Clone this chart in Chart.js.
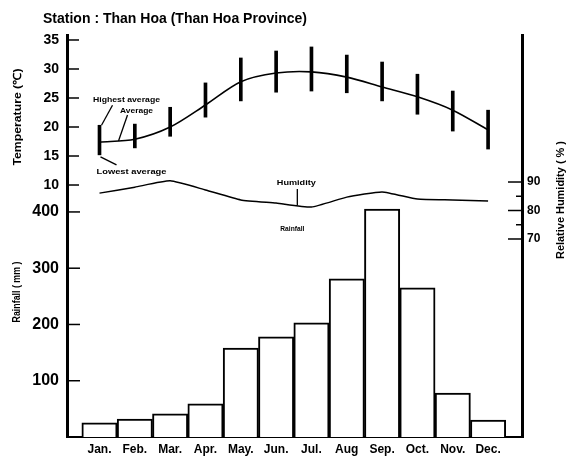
<!DOCTYPE html>
<html>
<head>
<meta charset="utf-8">
<script src="https://cdn.jsdelivr.net/npm/chart.js@4.4.1/dist/chart.umd.min.js"></script>
<style>
  html, body { margin: 0; padding: 0; background: #fff; }
  #chartContainer { width: 568px; height: 464px; }
</style>
</head>
<body>
<div id="chartContainer"><canvas id="chart"></canvas></div>
<script>
const months = ['Jan.', 'Feb.', 'Mar.', 'Apr.', 'May.', 'Jun.', 'Jul.', 'Aug', 'Sep.', 'Oct.', 'Nov.', 'Dec.'];
const tempAvg = [17.4, 17.9, 20.0, 23.8, 27.8, 29.3, 29.5, 28.6, 26.9, 25.2, 22.9, 19.5];
const tempHigh = [20.3, 20.5, 23.4, 27.6, 31.9, 33.1, 33.8, 32.4, 31.2, 29.1, 26.2, 22.9];
const tempLow = [15.2, 16.4, 18.4, 21.7, 24.5, 26.0, 26.2, 25.9, 24.5, 22.2, 19.3, 16.2];
const humidity = [86.1, 88.2, 90.4, 87.2, 83.7, 82.6, 81.2, 84.7, 86.5, 84.0, 83.7, 83.3];
const rainfall = [25, 32, 41, 59, 158, 178, 203, 281, 405, 265, 78, 30];
const tempTicks = [10, 15, 20, 25, 30, 35];
const rainTicks = [100, 200, 300, 400];
const humidityTicks = [70, 75, 80, 85, 90];
const humidityLabels = [70, 80, 90];

const FONT = '"Liberation Sans", Arial, sans-serif';

// draws text squeezed to a given width (the scan uses a narrow face)
function fitText(ctx, text, cx, cy, width, size, rotate) {
  ctx.save();
  ctx.translate(cx, cy);
  if (rotate) ctx.rotate(-Math.PI / 2);
  ctx.font = 'bold ' + size + 'px ' + FONT;
  const w = ctx.measureText(text).width;
  ctx.scale(width / w, 1);
  ctx.textAlign = 'center';
  ctx.textBaseline = 'middle';
  ctx.fillStyle = '#000';
  ctx.fillText(text, 0, 0);
  ctx.restore();
}

function seg(ctx, x1, y1, x2, y2) {
  ctx.beginPath();
  ctx.moveTo(x1, y1);
  ctx.lineTo(x2, y2);
  ctx.stroke();
}

// inward tick marks + titles + little labels
const decorations = {
  id: 'decorations',
  afterDraw(chart) {
    const ctx = chart.ctx;
    const s = chart.scales;
    const left = s.x.left;
    const right = s.x.right;
    ctx.save();
    ctx.strokeStyle = '#000';
    ctx.lineWidth = 1.5;
    tempTicks.forEach(v => {
      const y = s.yTemp.getPixelForValue(v);
      seg(ctx, left, y, left + 12, y);
    });
    rainTicks.forEach(v => {
      const y = s.yRain.getPixelForValue(v);
      seg(ctx, left, y, left + 13, y);
    });
    humidityTicks.forEach(v => {
      const y = s.yHum.getPixelForValue(v);
      const len = humidityLabels.includes(v) ? 14 : 6;
      seg(ctx, right - len, y, right, y);
    });

    // titles
    fitText(ctx, 'Station : Than Hoa (Than Hoa Province)', 175, 19, 264, 14);
    fitText(ctx, 'Temperature (\u2103)', 18, 117, 97, 11, true);
    fitText(ctx, 'Rainfall ( mm )', 17, 292, 61, 10, true);
    fitText(ctx, 'Relative Humidity ( % )', 561, 200, 118, 10, true);

    // legend bracket labels at January
    const jx = s.x.getPixelForValue(0);
    const hy = s.yTemp.getPixelForValue(tempHigh[0]);
    const ay = s.yTemp.getPixelForValue(tempAvg[0]);
    const ly = s.yTemp.getPixelForValue(tempLow[0]);
    ctx.lineWidth = 1.3;
    seg(ctx, jx + 13, hy - 20, jx + 2, hy);
    seg(ctx, jx + 28, ay - 27, jx + 19, ay - 1);
    seg(ctx, jx + 1, ly + 2, jx + 17, ly + 10);
    fitText(ctx, 'Highest average', jx + 27, hy - 25, 67, 8);
    fitText(ctx, 'Average', jx + 37, ay - 31, 33, 8);
    fitText(ctx, 'Lowest average', jx + 32, ly + 17, 70, 8);

    // humidity / rainfall captions
    const hx = s.x.getPixelForValue(5.6);
    const hv = humidity[5] + 0.6 * (humidity[6] - humidity[5]);
    seg(ctx, hx, 189, hx, s.yHum.getPixelForValue(hv));
    fitText(ctx, 'Humidity', hx - 1, 183, 39, 8);
    fitText(ctx, 'Rainfall', hx - 5, 229, 24, 8);
    ctx.restore();
  }
};

const ctx = document.querySelector('#chart');

const chart = new Chart(ctx, {
  type: 'bar',
  data: {
    datasets: [
      {
        type: 'line',
        label: 'Average',
        data: tempAvg.map((v, i) => ({ x: i, y: v })),
        yAxisID: 'yTemp',
        borderColor: '#000',
        borderWidth: 1.6,
        pointRadius: 0,
        tension: 0.3
      },
      {
        type: 'line',
        label: 'Humidity',
        data: humidity.map((v, i) => ({ x: i, y: v })),
        yAxisID: 'yHum',
        borderColor: '#000',
        borderWidth: 1.5,
        pointRadius: 0,
        tension: 0.15
      },
      {
        label: 'Temperature range',
        data: tempLow.map((v, i) => ({ x: i, y: [v, tempHigh[i]] })),
        yAxisID: 'yTemp',
        backgroundColor: '#000',
        borderWidth: 0,
        barThickness: 3,
        grouped: false
      },
      {
        label: 'Rainfall',
        data: rainfall.map((v, i) => ({ x: i, y: v })),
        yAxisID: 'yRain',
        backgroundColor: '#fff',
        borderColor: '#000',
        borderWidth: 2,
        barPercentage: 1,
        categoryPercentage: 1,
        grouped: false
      }
    ]
  },
  options: {
    responsive: true,
    maintainAspectRatio: false,
    animation: false,
    layout: { padding: { top: 35 } },
    plugins: {
      legend: { display: false },
      tooltip: { enabled: false }
    },
    scales: {
      x: {
        type: 'linear',
        offset: false,
        min: -0.92,
        max: 11.96,
        afterBuildTicks: scale => { scale.ticks = months.map((m, i) => ({ value: i })); },
        afterFit: scale => { scale.height = 27; },
        grid: { drawOnChartArea: false, drawTicks: false },
        border: { color: '#000', width: 2 },
        ticks: {
          autoSkip: false,
          maxRotation: 0,
          minRotation: 0,
          padding: 5,
          color: '#000',
          font: { family: FONT, size: 12, weight: 'bold' },
          callback: (v, i) => months[i]
        }
      },
      yTemp: {
        type: 'linear',
        position: 'left',
        stack: 'left',
        stackWeight: 155,
        weight: 1,
        min: 9.14,
        max: 35.86,
        afterBuildTicks: scale => { scale.ticks = tempTicks.map(v => ({ value: v })); },
        afterFit: scale => { scale.width = 67; },
        grid: { drawOnChartArea: false, drawTicks: false },
        border: { color: '#000', width: 3 },
        ticks: {
          autoSkip: false,
          padding: 8,
          color: '#000',
          font: { family: FONT, size: 14, weight: 'bold' }
        }
      },
      yRain: {
        type: 'linear',
        position: 'left',
        stack: 'left',
        stackWeight: 247,
        weight: 0,
        min: 0,
        max: 439,
        afterBuildTicks: scale => { scale.ticks = rainTicks.map(v => ({ value: v })); },
        afterFit: scale => { scale.width = 67; },
        grid: { drawOnChartArea: false, drawTicks: false },
        border: { color: '#000', width: 3 },
        ticks: {
          autoSkip: false,
          padding: 8,
          color: '#000',
          font: { family: FONT, size: 16, weight: 'bold' }
        }
      },
      yHum: {
        type: 'linear',
        position: 'right',
        min: 0.5,
        max: 141.6,
        afterBuildTicks: scale => { scale.ticks = humidityTicks.map(v => ({ value: v })); },
        afterFit: scale => { scale.width = 46; },
        grid: { drawOnChartArea: false, drawTicks: false },
        border: { color: '#000', width: 3 },
        ticks: {
          autoSkip: false,
          padding: 5,
          color: '#000',
          font: { family: FONT, size: 12, weight: 'bold' },
          callback: v => humidityLabels.includes(v) ? String(v) : ''
        }
      }
    }
  },
  plugins: [decorations]
});
</script>
</body>
</html>
